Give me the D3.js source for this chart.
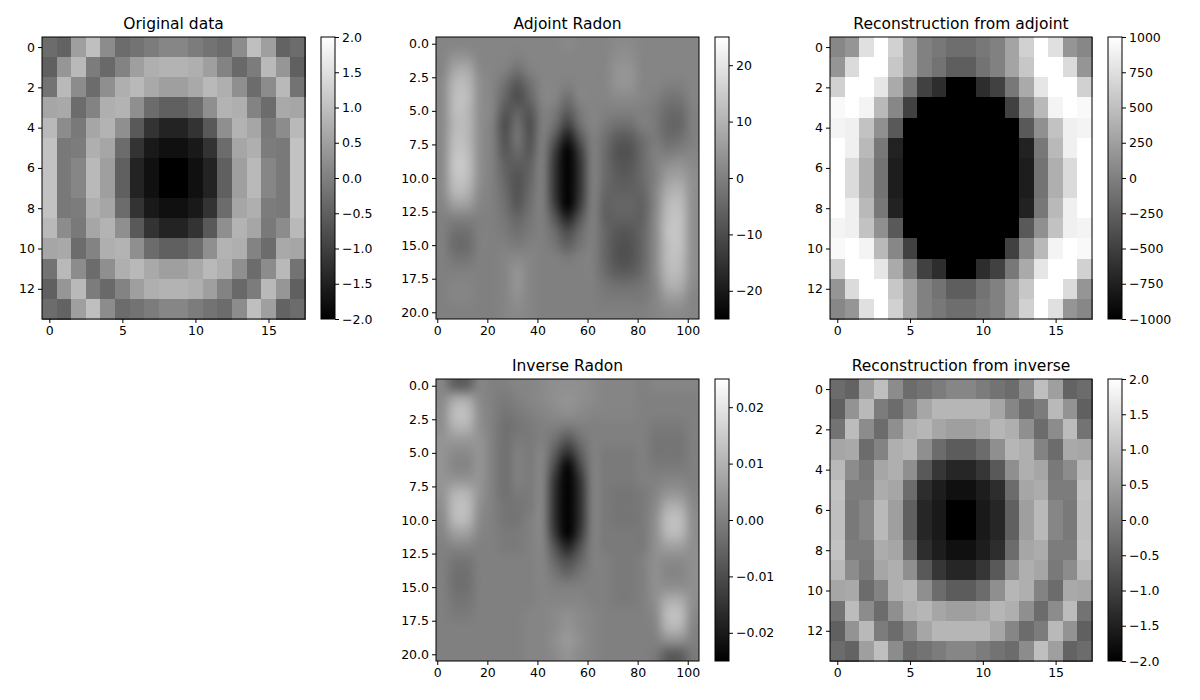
<!DOCTYPE html>
<html><head><meta charset="utf-8">
<script src="https://cdn.jsdelivr.net/npm/d3@7"></script>
<style>body{margin:0;background:#fff}text{font-family:"DejaVu Sans",sans-serif}</style>
</head><body><svg id="c" width="1200" height="700"></svg>
<script>
const original = [
[-0.3,-0.45,0.5,1.0,0.2,-0.3,-0.2,-0.05,0.1,0.1,-0.05,-0.2,-0.3,0.2,1.0,0.5,-0.45,-0.3],
[-0.5,0.35,0.9,-0.05,-0.35,0.05,0.5,0.75,0.8,0.8,0.75,0.5,0.05,-0.35,-0.05,0.9,0.35,-0.5],
[-0.2,0.9,0.2,-0.3,0.25,0.75,0.9,0.65,0.5,0.5,0.65,0.9,0.75,0.25,-0.3,0.2,0.9,-0.2],
[0.6,0.65,-0.3,0.05,0.75,0.8,0.25,-0.3,-0.5,-0.5,-0.3,0.25,0.8,0.75,0.05,-0.3,0.65,0.6],
[0.9,0.2,-0.1,0.6,0.8,0.25,-0.6,-1.2,-1.45,-1.45,-1.2,-0.6,0.25,0.8,0.6,-0.1,0.2,0.9],
[1.05,-0.1,-0.05,0.75,0.6,-0.3,-1.2,-1.6,-1.75,-1.75,-1.6,-1.2,-0.3,0.6,0.75,-0.05,-0.1,1.05],
[1.05,-0.1,0.1,0.9,0.5,-0.5,-1.45,-1.75,-2.0,-2.0,-1.75,-1.45,-0.5,0.5,0.9,0.1,-0.1,1.05],
[1.05,-0.1,0.1,0.9,0.5,-0.5,-1.45,-1.75,-2.0,-2.0,-1.75,-1.45,-0.5,0.5,0.9,0.1,-0.1,1.05],
[1.05,-0.1,-0.05,0.75,0.6,-0.3,-1.2,-1.6,-1.75,-1.75,-1.6,-1.2,-0.3,0.6,0.75,-0.05,-0.1,1.05],
[0.9,0.2,-0.1,0.6,0.8,0.25,-0.6,-1.2,-1.45,-1.45,-1.2,-0.6,0.25,0.8,0.6,-0.1,0.2,0.9],
[0.6,0.65,-0.3,0.05,0.75,0.8,0.25,-0.3,-0.5,-0.5,-0.3,0.25,0.8,0.75,0.05,-0.3,0.65,0.6],
[-0.2,0.9,0.2,-0.3,0.25,0.75,0.9,0.65,0.5,0.5,0.65,0.9,0.75,0.25,-0.3,0.2,0.9,-0.2],
[-0.5,0.35,0.9,-0.05,-0.35,0.05,0.5,0.75,0.8,0.8,0.75,0.5,0.05,-0.35,-0.05,0.9,0.35,-0.5],
[-0.3,-0.45,0.5,1.0,0.2,-0.3,-0.2,-0.05,0.1,0.1,-0.05,-0.2,-0.3,0.2,1.0,0.5,-0.45,-0.3]];
const reconInverse = [
[-0.3,-0.45,0.5,1.0,0.2,-0.3,-0.2,-0.05,0.1,0.1,-0.05,-0.2,-0.3,0.2,1.0,0.5,-0.45,-0.3],
[-0.5,0.3,0.9,-0.05,-0.3,0.1,0.6,0.85,0.85,0.85,0.85,0.6,0.1,-0.3,-0.05,0.9,0.3,-0.5],
[-0.2,0.95,0.2,-0.3,0.25,0.75,0.85,0.6,0.5,0.5,0.6,0.85,0.75,0.25,-0.3,0.2,0.95,-0.2],
[0.6,0.65,-0.3,0.05,0.75,0.85,0.25,-0.3,-0.55,-0.55,-0.3,0.25,0.85,0.75,0.05,-0.3,0.65,0.6],
[0.9,0.2,-0.1,0.6,0.75,0.25,-0.6,-1.15,-1.4,-1.4,-1.15,-0.6,0.25,0.75,0.6,-0.1,0.2,0.9],
[1.05,-0.05,-0.05,0.7,0.6,-0.3,-1.3,-1.55,-1.75,-1.75,-1.55,-1.3,-0.3,0.6,0.7,-0.05,-0.05,1.05],
[1.0,-0.1,0.1,0.9,0.5,-0.5,-1.4,-1.6,-2.0,-2.0,-1.6,-1.4,-0.5,0.5,0.9,0.1,-0.1,1.0],
[1.0,-0.1,0.1,0.9,0.5,-0.5,-1.4,-1.6,-2.0,-2.0,-1.6,-1.4,-0.5,0.5,0.9,0.1,-0.1,1.0],
[1.05,-0.05,-0.05,0.7,0.6,-0.3,-1.3,-1.55,-1.75,-1.75,-1.55,-1.3,-0.3,0.6,0.7,-0.05,-0.05,1.05],
[0.9,0.2,-0.1,0.6,0.75,0.25,-0.6,-1.15,-1.4,-1.4,-1.15,-0.6,0.25,0.75,0.6,-0.1,0.2,0.9],
[0.6,0.65,-0.3,0.05,0.75,0.85,0.25,-0.3,-0.55,-0.55,-0.3,0.25,0.85,0.75,0.05,-0.3,0.65,0.6],
[-0.2,0.95,0.2,-0.3,0.25,0.75,0.85,0.6,0.5,0.5,0.6,0.85,0.75,0.25,-0.3,0.2,0.95,-0.2],
[-0.5,0.3,0.9,-0.05,-0.3,0.1,0.6,0.85,0.85,0.85,0.85,0.6,0.1,-0.3,-0.05,0.9,0.3,-0.5],
[-0.3,-0.45,0.5,1.0,0.2,-0.3,-0.2,-0.05,0.1,0.1,-0.05,-0.2,-0.3,0.2,1.0,0.5,-0.45,-0.3]];
const reconAdjoint = [
[55,170,760,1000,640,290,15,-60,-140,-140,-60,15,290,640,1000,760,170,55],
[170,720,1000,1000,560,290,15,-100,-260,-260,-100,15,290,560,1000,1000,720,170],
[640,1000,1000,800,330,-60,-490,-650,-1000,-1000,-650,-490,-60,330,800,1000,1000,640],
[950,1000,910,450,55,-490,-1000,-1000,-1000,-1000,-1000,-1000,-490,55,450,910,1000,950],
[910,880,520,130,-300,-1000,-1000,-1000,-1000,-1000,-1000,-1000,-1000,-300,130,520,880,910],
[1000,880,450,-60,-730,-1000,-1000,-1000,-1000,-1000,-1000,-1000,-1000,-730,-60,450,880,1000],
[1000,720,370,-100,-770,-1000,-1000,-1000,-1000,-1000,-1000,-1000,-1000,-770,-100,370,720,1000],
[1000,720,370,-100,-770,-1000,-1000,-1000,-1000,-1000,-1000,-1000,-1000,-770,-100,370,720,1000],
[1000,880,450,-60,-730,-1000,-1000,-1000,-1000,-1000,-1000,-1000,-1000,-730,-60,450,880,1000],
[910,880,520,130,-300,-1000,-1000,-1000,-1000,-1000,-1000,-1000,-1000,-300,130,520,880,910],
[950,1000,910,450,55,-490,-1000,-1000,-1000,-1000,-1000,-1000,-490,55,450,910,1000,950],
[640,1000,1000,800,330,-60,-490,-650,-1000,-1000,-650,-490,-60,330,800,1000,1000,640],
[170,720,1000,1000,560,290,15,-100,-260,-260,-100,15,290,560,1000,1000,720,170],
[55,170,760,1000,640,290,15,-60,-140,-140,-60,15,290,640,1000,760,170,55]];
// sinograms: 21 rows x 21 column bands (each band = 5 detector columns)
const adjointRadon = [
[1,1,1,1,1,1,1,1,1,1,2,1,1,1,2,2,1,1,1,1,1],
[1,4,4,1,1,1,0,1,1,1,1,1,1,1,3,3,1,1,1,1,1],
[1,8,9,2,1,0,-3,0,1,1,1,1,1,1,4,4,1,1,1,1,1],
[2,11,11,3,1,-3,-8,-3,1,1,0,1,1,1,4,4,1,1,0,0,1],
[2,12,12,3,1,-5,-10,-5,1,1,-3,1,1,1,2,2,1,0,-2,-2,1],
[2,12,11,3,1,-8,-6,-8,0,-1,-7,-1,1,0,0,0,0,-1,-4,-4,0],
[2,11,11,3,0,-10,-3,-10,0,-3,-12,-3,1,-1,-3,-3,0,-1,-5,-5,0],
[2,12,11,3,0,-9,-2,-9,0,-8,-20,-8,0,-3,-7,-7,-3,-1,-4,-3,0],
[2,13,12,3,0,-8,-4,-8,0,-13,-28,-13,0,-4,-9,-9,-4,0,-1,0,1],
[2,14,13,3,0,-6,-7,-6,0,-15,-30,-15,0,-4,-8,-8,-4,0,3,4,2],
[2,13,12,3,0,-5,-9,-5,0,-15,-30,-15,0,-4,-7,-7,-4,0,6,7,3],
[2,11,10,2,0,-4,-9,-4,0,-15,-30,-15,0,-5,-6,-6,-5,1,9,10,3],
[1,6,6,1,0,-3,-8,-3,0,-13,-28,-13,0,-6,-5,-5,-6,1,11,12,3],
[0,0,0,0,0,-2,-5,-2,0,-8,-18,-8,0,-6,-6,-6,-6,2,12,13,3],
[0,-3,-3,0,0,-1,-3,-1,0,-4,-10,-4,0,-5,-8,-8,-5,2,13,13,3],
[0,-4,-4,0,0,0,-1,0,0,-2,-6,-2,0,-5,-9,-9,-5,2,12,13,3],
[0,-2,-2,0,0,1,2,1,0,0,-1,0,0,-5,-9,-9,-5,2,12,12,3],
[0,0,0,0,0,1,4,1,0,0,0,0,0,-4,-7,-7,-4,2,11,11,3],
[0,1,1,0,0,1,4,1,0,0,0,0,0,-2,-3,-3,-2,1,9,9,2],
[0,1,1,0,0,1,3,1,0,0,0,0,0,-1,-1,-1,-1,1,5,5,1],
[0,0,0,0,0,1,2,1,0,0,0,0,0,0,0,0,0,1,2,2,1]];
const inverseRadon = [ // in units of 0.001
[1,-6,-6,1,0,0,1,1,2,3,3,3,2,1,1,1,0,1,1,1,1],
[2,8,8,2,0,-1,0,1,2,3,4,3,2,1,1,1,0,0,0,0,0],
[3,12,12,3,0,-2,-1,0,1,2,3,2,1,1,1,1,0,0,0,0,0],
[3,10,10,3,0,-3,-2,-1,0,0,-1,0,0,0,0,0,0,-1,-1,-1,0],
[4,5,5,4,0,-3,-1,-1,0,-3,-8,-3,0,0,0,0,0,-2,-2,-2,0],
[4,2,2,4,0,-3,0,-1,1,-7,-16,-7,0,-1,-1,-1,0,-2,-2,-2,0],
[4,1,1,4,0,-3,0,-1,1,-11,-24,-11,0,-1,-1,-1,0,-1,-1,-1,0],
[4,4,4,4,0,-3,0,-1,1,-15,-30,-15,0,-1,-1,-1,0,0,1,1,0],
[4,10,10,4,0,-3,-1,-1,1,-16,-32,-16,0,-1,-2,-2,-1,1,4,4,1],
[3,12,12,3,0,-2,-2,-1,1,-16,-32,-16,0,-1,-2,-2,-1,2,9,9,2],
[2,11,11,2,0,-2,-2,0,1,-16,-32,-16,0,-1,-2,-2,-1,3,12,12,3],
[1,6,6,1,0,-1,-1,0,1,-14,-28,-14,0,-1,-1,-1,-1,3,11,11,3],
[0,1,1,0,0,-1,-1,0,1,-9,-18,-9,0,-1,-1,-1,-1,3,6,6,3],
[0,-2,-2,0,0,0,0,0,1,-5,-10,-5,0,0,-1,-1,0,3,2,2,3],
[0,-3,-3,0,0,0,0,0,1,-2,-5,-2,0,0,-1,-1,0,3,1,1,3],
[0,-3,-3,0,0,0,0,0,1,0,0,0,0,0,-1,-1,0,3,3,3,3],
[0,-2,-2,0,0,0,0,0,1,1,1,1,0,0,-1,-1,0,3,9,9,3],
[0,-1,-1,0,0,0,0,1,1,2,3,2,1,0,0,0,0,2,12,12,2],
[0,0,0,0,0,0,0,1,1,2,4,2,1,0,0,0,0,1,10,10,1],
[0,0,0,0,0,0,0,1,1,3,5,3,1,0,0,0,0,0,3,3,0],
[0,0,0,0,0,0,0,1,1,2,4,2,1,0,0,0,0,-1,-7,-7,-1]];
const invScale = 0.001;

const imgTicksX = [0,5,10,15], imgTicksY = [0,2,4,6,8,10,12];
const sinoTicksX = [0,20,40,60,80,100], sinoTicksY = [0,2.5,5,7.5,10,12.5,15,17.5,20];
const cbTicksA = [-2,-1.5,-1,-0.5,0,0.5,1,1.5,2];
const cbTicksB = [-20,-10,0,10,20];
const cbTicksC = [-1000,-750,-500,-250,0,250,500,750,1000];
const cbTicksD = [-0.02,-0.01,0,0.01,0.02];

const svg = d3.select("#c");
const minus = s => s.replace(/-/g,"\u2212");

function grayOf(v, lo, hi){ const t = Math.max(0,Math.min(1,(v-lo)/(hi-lo))); const g=Math.round(t*255); return `rgb(${g},${g},${g})`; }

function panel(o){
  const g = svg.append("g");
  const nr = o.rows || o.data.length, nc = o.cols;
  const x = d3.scaleLinear().domain([-0.5, nc-0.5]).range([o.x0, o.x1]);
  const y = d3.scaleLinear().domain([-0.5, nr-0.5]).range([o.y0, o.y1]);
  if (o.kind === "cells") {
    o.data.forEach((row,i)=>row.forEach((v,j)=>{
      g.append("rect").attr("x",x(j-0.5)).attr("y",y(i-0.5))
        .attr("width",x(j+0.5)-x(j-0.5)+0.5).attr("height",y(i+0.5)-y(i-0.5)+0.5)
        .attr("shape-rendering","crispEdges")
        .attr("fill",grayOf(v*(o.scale||1),o.lo,o.hi));
    }));
  } else {
    const cv = document.createElement("canvas");
    const w = o.data[0].length, h = o.data.length;
    cv.width = w; cv.height = h;
    const ctx = cv.getContext("2d"); const im = ctx.createImageData(w,h);
    o.data.forEach((row,i)=>row.forEach((v,j)=>{
      const t = Math.max(0,Math.min(1,(v*(o.scale||1)-o.lo)/(o.hi-o.lo)));
      const k=(i*w+j)*4, gg=Math.round(t*255);
      im.data[k]=gg;im.data[k+1]=gg;im.data[k+2]=gg;im.data[k+3]=255;
    }));
    ctx.putImageData(im,0,0);
    const big = document.createElement("canvas");
    big.width = Math.round(o.x1-o.x0); big.height = Math.round(o.y1-o.y0);
    const bctx = big.getContext("2d"); bctx.imageSmoothingEnabled = true; bctx.imageSmoothingQuality="high";
    bctx.drawImage(cv,0,0,big.width,big.height);
    g.append("image").attr("href",big.toDataURL()).attr("x",x(-0.5)).attr("y",y(-0.5))
      .attr("width",x(nc-0.5)-x(-0.5)).attr("height",y(nr-0.5)-y(-0.5)).attr("preserveAspectRatio","none");
  }
  g.append("rect").attr("x",o.x0).attr("y",o.y0).attr("width",o.x1-o.x0).attr("height",o.y1-o.y0)
    .attr("fill","none").attr("stroke","#000").attr("stroke-width",1);
  const ax = g.append("g").attr("transform",`translate(0,${o.y1})`).call(d3.axisBottom(x).tickValues(o.tx).tickSize(4).tickPadding(3).tickFormat(d=>minus(String(d))));
  const ay = g.append("g").attr("transform",`translate(${o.x0},0)`).call(d3.axisLeft(y).tickValues(o.ty).tickSize(4).tickPadding(3).tickFormat(o.fy||(d=>String(d))));
  [ax,ay].forEach(a=>{a.select(".domain").remove();a.selectAll("text").attr("font-size",12.5).attr("fill","#000");a.selectAll("line").attr("stroke","#000");});
  g.append("text").attr("x",(o.x0+o.x1)/2).attr("y",o.y0-8).attr("text-anchor","middle").attr("font-size",15.5).text(o.title);
  const cx = o.x1+16, cw = 14;
  const cs = d3.scaleLinear().domain([o.lo,o.hi]).range([o.y1,o.y0]);
  const gid = "grad"+o.id;
  const grad = svg.append("defs").append("linearGradient").attr("id",gid).attr("x1",0).attr("y1",1).attr("x2",0).attr("y2",0);
  grad.append("stop").attr("offset",0).attr("stop-color","#000");
  grad.append("stop").attr("offset",1).attr("stop-color","#fff");
  g.append("rect").attr("x",cx).attr("y",o.y0).attr("width",cw).attr("height",o.y1-o.y0).attr("fill",`url(#${gid})`).attr("stroke","#000");
  const ac = g.append("g").attr("transform",`translate(${cx+cw},0)`).call(d3.axisRight(cs).tickValues(o.ct).tickSize(4).tickPadding(3).tickFormat(o.cf));
  ac.select(".domain").remove(); ac.selectAll("text").attr("font-size",12.5).attr("fill","#000"); ac.selectAll("line").attr("stroke","#000");
}

const fA = d=>minus(d3.format(".1f")(d));
panel({id:1,kind:"cells",data:original,cols:18,x0:42,x1:305,y0:37,y1:319,lo:-2,hi:2,tx:imgTicksX,ty:imgTicksY,ct:cbTicksA,cf:fA,title:"Original data"});
panel({id:2,kind:"img",data:adjointRadon,cols:105,rows:21,x0:436,x1:699,y0:37,y1:319,lo:-25,hi:25,tx:sinoTicksX,ty:sinoTicksY,fy:d=>d3.format(".1f")(d),ct:cbTicksB,cf:d=>minus(String(d)),title:"Adjoint Radon"});
panel({id:3,kind:"cells",data:reconAdjoint,cols:18,x0:830,x1:1092,y0:37,y1:319,lo:-1000,hi:1000,tx:imgTicksX,ty:imgTicksY,ct:cbTicksC,cf:d=>minus(String(d)),title:"Reconstruction from adjoint"});
panel({id:4,kind:"img",data:inverseRadon,scale:invScale,cols:105,rows:21,x0:436,x1:699,y0:379,y1:661,lo:-0.025,hi:0.025,tx:sinoTicksX,ty:sinoTicksY,fy:d=>d3.format(".1f")(d),ct:cbTicksD,cf:d=>minus(d3.format(".2f")(d)),title:"Inverse Radon"});
panel({id:5,kind:"cells",data:reconInverse,cols:18,x0:830,x1:1092,y0:379,y1:661,lo:-2,hi:2,tx:imgTicksX,ty:imgTicksY,ct:cbTicksA,cf:fA,title:"Reconstruction from inverse"});
</script></body></html>
